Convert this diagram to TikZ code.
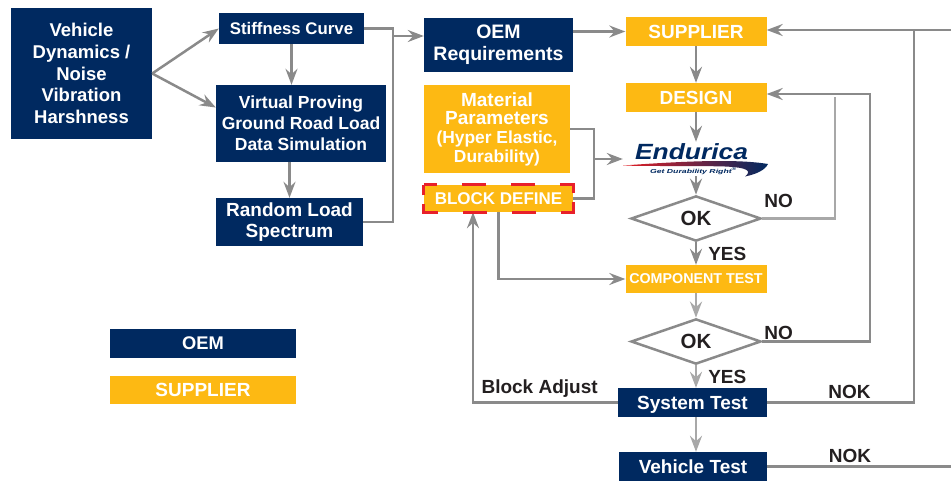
\documentclass[tikz,border=0pt]{standalone}
\usepackage{fontspec}
\setmainfont{Liberation Sans}
\usepackage{graphicx}
\providecommand{\boxfont}[2]{\bfseries\fontsize{#1}{#2}\selectfont}
\definecolor{oemblue}{RGB}{0,41,96}
\definecolor{supyellow}{RGB}{253,185,19}
\definecolor{flowgrey}{RGB}{138,138,138}
\definecolor{lightgrey}{RGB}{168,168,168}
\definecolor{blockred}{RGB}{232,32,42}
\definecolor{labelblack}{RGB}{35,31,32}
\definecolor{endured}{RGB}{227,30,36}
\usetikzlibrary{shapes.geometric, positioning, quotes, graphs, arrows.meta}

\begin{document}
\begin{tikzpicture}[x=1pt, y=-1pt, >={Stealth[length=16pt, width=12pt, inset=5.5pt]},
    oem box/.style={inner sep=0pt, align=center, text=white, fill=oemblue},
    supplier box/.style={inner sep=0pt, align=center, text=white, fill=supyellow},
    check/.style={diamond, draw=flowgrey, line width=2.5pt, fill=white, inner sep=0pt, minimum width=130pt, minimum height=43pt, text=labelblack, font=\boxfont{20.5}{22}},
    flow/.style={draw=flowgrey, line width=2.5pt},
    flow light/.style={draw=lightgrey, line width=2.5pt},
    tag/.style={inner sep=0pt, text=labelblack, font=\boxfont{19}{20}},
    every edge quotes/.style={tag},
    block dash/.style={draw=blockred, line width=3pt, dash pattern=on 22pt off 25pt on 24pt off 25pt on 24pt off 25pt on 22pt off 9pt on 22pt off 25pt on 24pt off 25pt on 24pt off 25pt on 22pt off 9pt, dash phase=9pt}]
    \useasboundingbox[fill=white] (0,0) rectangle (951,480);

    \node[oem box, minimum width=141pt, minimum height=131pt, font=\boxfont{18.5}{21.7}] (vehicle dynamics) at (81.5,73.5) {Vehicle\\Dynamics /\\Noise\\Vibration\\Harshness};
    \node[oem box, minimum width=145pt, minimum height=31pt, font=\boxfont{16.8}{18}] (stiffness curve) at (291.5,28.5) {Stiffness Curve};
    \node[oem box, minimum width=170pt, minimum height=77pt, font=\boxfont{17.5}{21}] (proving ground) at (301,123.5) {Virtual Proving\\Ground Road Load\\Data Simulation};
    \node[oem box, minimum width=147pt, minimum height=48pt, font=\boxfont{19}{20.5}] (random load) at (289.5,222) {Random Load\\Spectrum};
    \node[oem box, minimum width=149pt, minimum height=54pt, font=\boxfont{19.5}{22}] (oem requirements) at (498.5,45) {OEM\\Requirements};
    \node[supplier box, minimum width=146pt, minimum height=88pt, font=\boxfont{19}{18.7}] (material parameters) at (497,129) {Material\\Parameters\\{\fontsize{17.4}{18.7}\selectfont(Hyper Elastic,}\\{\fontsize{17.4}{18.7}\selectfont Durability)}};
    \node[supplier box, minimum width=149pt, minimum height=27pt, font=\boxfont{17}{18}] (block define) at (498.5,198.5) {BLOCK DEFINE};

    \node[supplier box, minimum width=141pt, minimum height=29pt, font=\boxfont{19}{20}] (supplier) at (696,31.5) {SUPPLIER};
    \node[supplier box, minimum width=141pt, minimum height=29pt, font=\boxfont{19}{20}] (design) at (696,97.5) {DESIGN};
    \node[minimum width=146pt, minimum height=34pt, inner sep=0pt] (endurica) at (696,159) {};
    \node[check] (ok 1) at (696,218.5) {OK};
    \node[supplier box, minimum width=141pt, minimum height=28pt, font=\boxfont{14.3}{15}] (component test) at (696,279) {COMPONENT TEST};
    \node[check] (ok 2) at (696,341.5) {OK};
    \node[oem box, minimum width=149pt, minimum height=29pt, text depth=0pt, font=\boxfont{19}{20}] (system test) at (692.5,402.5) {System Test};
    \node[oem box, minimum width=148pt, minimum height=29pt, font=\boxfont{19}{20}] (vehicle test) at (693,466.5) {Vehicle Test};

    \node[oem box, minimum width=186pt, minimum height=29pt, font=\boxfont{18.3}{20}] (legend oem) at (203,343.5) {OEM};
    \node[supplier box, minimum width=186pt, minimum height=28pt, font=\boxfont{19}{20}] (legend supplier) at (203,390) {SUPPLIER};

    \shade[left color=endured, middle color=endured, right color=oemblue] (623,165.5) .. controls (680,161.5) and (735,158.5) .. (768,164) .. controls (765,170) and (757,174) .. (745,176.5) .. controls (752,171) and (748,167.5) .. (725,166.5) .. controls (690,165.5) and (650,166.5) .. (623,165.5) -- cycle;
    \node[anchor=base, inner sep=0pt, text=oemblue, font=\bfseries\itshape\fontsize{22}{22}\selectfont] (endurica name) at (691.5,159) {\scalebox{1.2}[1]{Endurica}};
    \node[inner sep=0pt, text=oemblue, font=\bfseries\itshape\fontsize{5.8}{6}\selectfont] (endurica tagline) at (693.5,171) {\scalebox{1.5}[1]{Get Durability Right\textsuperscript{®}}};

    \coordinate (oem join) at (393,36);
    \coordinate (material join) at (594,159);
    \coordinate (block adjust) at (473,403);
    \coordinate (no 1 end) at (835,97);
    \coordinate (design return) at (870,94);
    \coordinate (supplier return) at (914,30);
    \coordinate (top edge) at (951,30);
    \coordinate (bottom edge) at (951,466);

    \draw[flow, ->] (vehicle dynamics.east) -- (stiffness curve.west);
    \draw[flow, ->] (vehicle dynamics.east) -- ([yshift=16pt]proving ground.west);
    \draw[flow, ->] (stiffness curve.south) -- (stiffness curve.south |- proving ground.north);
    \draw[flow, ->] (random load.north |- proving ground.south) -- (random load.north);
    \draw[flow] (stiffness curve.east) -| (oem join) |- (random load.east);
    \draw[flow, ->] (oem join) -- (oem join -| oem requirements.west);
    \draw[flow, ->] (oem requirements.east |- supplier.west) -- (supplier.west);
    \draw[flow] (material parameters.east) -| (material join) |- (block define.east);
    \draw[flow, ->] (material join) -- (endurica.west);

    \graph{(supplier) ->[flow] (design) ->[flow] (endurica) ->[flow] (ok 1) ->[flow, "YES" {right=11pt, name=yes 1}] (component test) ->[flow light] (ok 2)};

    \draw[flow light, ->] (ok 2.south) -- node[tag, right=11pt] (yes 2) {YES} (ok 2.south |- system test.north);
    \draw[flow light, ->] (ok 2.south |- system test.south) -- (ok 2.south |- vehicle test.north);
    \draw[flow, ->] (block define.south) |- (component test.west);
    \draw[flow, ->] (system test.west) -| node[tag, pos=.27, above=4pt] (adjust label) {Block Adjust} (block adjust |- block define.south);

    \draw[flow light] (ok 1.east) -| (no 1 end);
    \node[tag, above right=11pt and 2pt of ok 1.east] (no 1) {NO};
    \draw[flow, ->] (ok 2.east) -| (design return) -- (design return -| design.east);
    \node[tag, above right=2pt and 2pt of ok 2.east] (no 2) {NO};
    \draw[flow, ->] (top edge) -- (top edge -| supplier.east);
    \draw[flow] (system test.east) -| node[tag, pos=.28, above=3pt] (nok 1) {NOK} (supplier return);
    \draw[flow] (vehicle test.east) -- node[tag, pos=.45, above=3pt] (nok 2) {NOK} (vehicle test.east -| bottom edge);

    \draw[block dash] (block define.north west) -- (block define.north east) -- (block define.south east) -- (block define.south west) -- cycle;
\end{tikzpicture}
\end{document}
